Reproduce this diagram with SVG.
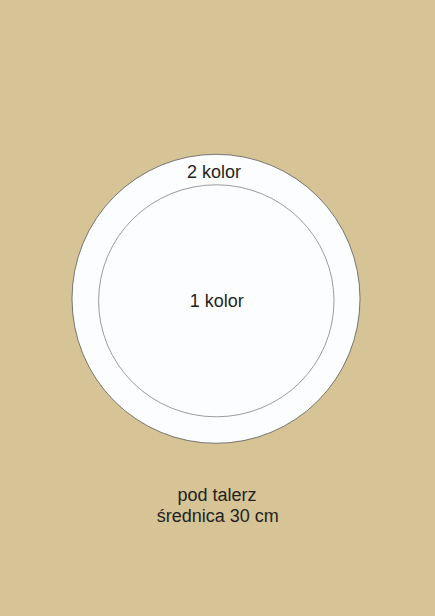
<svg xmlns="http://www.w3.org/2000/svg" width="435" height="616" viewBox="0 0 435 616">
<style>
.t{font-family:"Liberation Sans",Arial,sans-serif;font-size:18px;fill:#231f20;text-anchor:middle}
.c{fill:#fbfdfe;stroke:#5a5a5a}
</style>
<rect width="435" height="616" fill="#d6c497"/>
<g id="outer"><ellipse class="c" cx="216" cy="298.8" rx="144" ry="144.5" stroke-width="0.8"/><text class="t" x="214" y="178.3">2 kolor</text></g>
<g id="inner"><ellipse class="c" cx="216.3" cy="300.8" rx="117.7" ry="116" stroke-width="0.6"/><text class="t" x="216.7" y="307">1 kolor</text></g>
<g id="label"><text class="t" x="217" y="500.7">pod talerz</text><text class="t" x="217.8" y="521.7">średnica 30 cm</text></g>
<g id="connectors"/>
</svg>
